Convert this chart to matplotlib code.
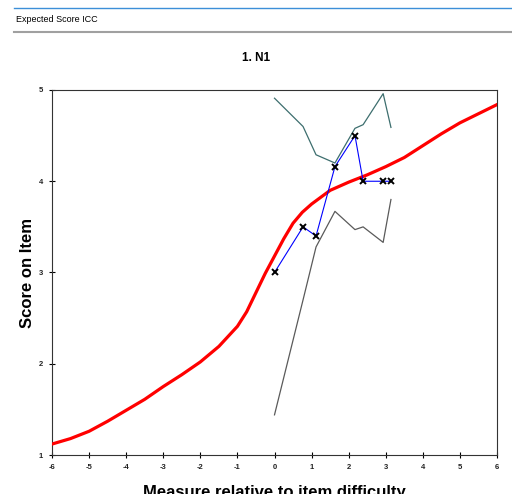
import numpy as np
import matplotlib
matplotlib.use("Agg")
import matplotlib.pyplot as plt
from matplotlib.lines import Line2D

plt.rcParams['font.family'] = ['Liberation Sans', 'DejaVu Sans']
plt.rcParams['axes.unicode_minus'] = False

# expected score curve (model ICC)
icc_x = [-6, -5.5, -5, -4.5, -4, -3.5, -3, -2.5, -2, -1.5, -1, -0.75, -0.5, -0.25,
         0, 0.25, 0.5, 0.75, 1, 1.5, 2, 2.5, 3, 3.5, 4, 4.5, 5, 5.5, 6]
icc_y = [1.12, 1.18, 1.26, 1.37, 1.49, 1.61, 1.75, 1.88, 2.02, 2.19, 2.41, 2.57, 2.78, 2.99,
         3.18, 3.37, 3.54, 3.66, 3.75, 3.90, 3.99, 4.07, 4.16, 4.26, 4.39, 4.52, 4.64, 4.74, 4.84]

# empirical observed scores
obs_x = [0.0, 0.77, 1.12, 1.63, 2.17, 2.39, 2.93, 3.14]
obs_y = [3.00, 3.50, 3.40, 4.16, 4.50, 4.00, 4.00, 4.00]

# confidence bands
upper_y = [4.91, 4.60, 4.29, 4.20, 4.58, 4.62, 4.96, 4.59]
lower_y = [1.44, 2.70, 3.28, 3.67, 3.47, 3.50, 3.33, 3.80]

xticks = list(range(-6, 7))
yticks = [1, 2, 3, 4, 5]

fig = plt.figure(figsize=(5.12, 4.94), dpi=100)

# window header
fig.add_artist(Line2D([14/512, 1], [1-8/494, 1-8/494], color='#3c8fd8', lw=1.0))
fig.add_artist(Line2D([14/512, 1], [1-32/494, 1-32/494], color='#a0a0a0', lw=1.5))
fig.text(16/512, 1-19/494, "Expected Score ICC", fontsize=6.5, va='center', ha='left')

ax = fig.add_axes([52/512, 1-455/494, 445/512, 365/494])
ax.plot(icc_x, icc_y, color='red', lw=2.3, zorder=3, solid_joinstyle='round')
ax.plot(obs_x, upper_y, color='#3d6e6e', lw=0.9, zorder=2)
ax.plot(obs_x, lower_y, color='#5a5a5a', lw=0.9, zorder=2)
ax.plot(obs_x, obs_y, color='blue', lw=0.8, marker='x', mec='black',
        ms=4.5, mew=1.4, zorder=4)

ax.set_xlim(-6, 6)
ax.set_ylim(1, 5)
ax.set_xticks(xticks)
ax.set_yticks(yticks)
ax.tick_params(direction='inout', length=5, width=0.8, labelsize=5.5, pad=4)
for lab in ax.get_xticklabels() + ax.get_yticklabels():
    lab.set_fontweight('bold')
    lab.set_color('#222222')
for s in ax.spines.values():
    s.set_linewidth(0.8)
    s.set_color('#333333')

ax.set_ylabel("Score on Item", fontsize=12, fontweight='bold', labelpad=3)
ax.set_xlabel("Measure relative to item difficulty", fontsize=12, fontweight='bold', labelpad=10)
fig.text(256/512, 1-58/494, "1. N1", fontsize=8.5, fontweight='bold', ha='center', va='center')

fig.savefig("out.png", dpi=100)
